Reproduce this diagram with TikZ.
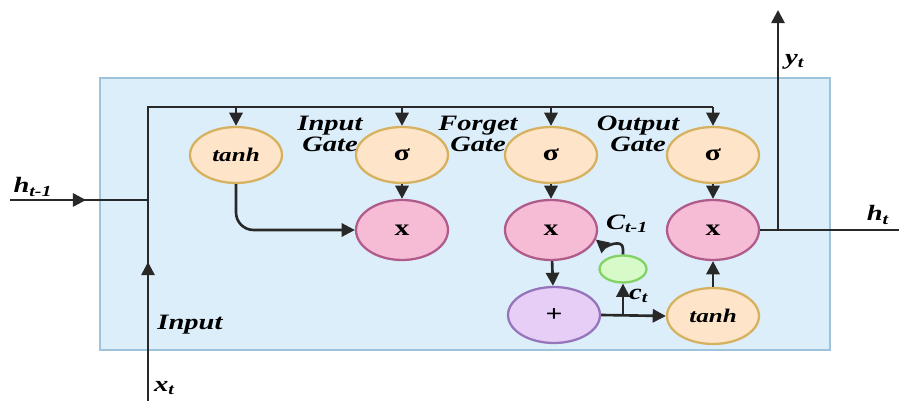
\documentclass[tikz,border=0pt]{standalone}
\usepackage{fontspec}
\setmainfont{Liberation Serif}
\newfontfamily\widefont[FakeStretch=1.3]{Liberation Serif}
\usetikzlibrary{shapes.geometric,arrows.meta}
\definecolor{boxfill}{RGB}{221,238,251}
\definecolor{boxline}{RGB}{160,195,220}
\definecolor{orfill}{RGB}{254,228,200}
\definecolor{orline}{RGB}{214,178,96}
\definecolor{pkfill}{RGB}{246,188,214}
\definecolor{pkline}{RGB}{176,92,138}
\definecolor{pufill}{RGB}{230,206,246}
\definecolor{puline}{RGB}{150,118,186}
\definecolor{grfill}{RGB}{214,250,200}
\definecolor{grline}{RGB}{130,210,100}
\definecolor{wire}{RGB}{40,40,40}
\tikzset{
  cell/.style={ellipse, line width=1.3pt, minimum width=1.84cm, minimum height=1.12cm,
    inner sep=0pt, font=\widefont\fontsize{13}{14}\selectfont\bfseries},
  act/.style={cell, draw=orline, fill=orfill},
  mult/.style={cell, draw=pkline, fill=pkfill, minimum height=1.2cm},
  addn/.style={cell, draw=puline, fill=pufill},
  actw/.style={act, font=\widefont\fontsize{11}{12}\selectfont\bfseries\itshape},
  conn/.style={draw=wire, line width=1.5pt, -{Triangle[length=7.5pt,width=7.5pt]}},
  wireln/.style={draw=wire, line width=1.5pt},
  lbl/.style={font=\widefont\fontsize{12.5}{12}\selectfont\bfseries\itshape, inner sep=1pt, align=center}
}
\begin{document}
\begin{tikzpicture}[x=0.02cm,y=-0.02cm]
\useasboundingbox (0,0) rectangle (899,401);
\fill[white] (0,0) rectangle (899,401);
% cell body
\draw[boxline, fill=boxfill, line width=1.2pt] (100,78) rectangle (830,350);

% activation and gate units
\node[actw] (th1) at (236,155) {tanh};
\node[act] (ig) at (402,155) {σ};
\node[act] (fg) at (551,155) {σ};
\node[act] (og) at (713,155) {σ};
\node[mult] (mi) at (402,230) {x};
\node[mult] (mf) at (551,230) {x};
\node[mult] (mo) at (713,230) {x};
\node[addn] (ad) at (554,315) {+};
\node[actw] (th2) at (713,316) {tanh};
\node[ellipse, draw=grline, fill=grfill, line width=1.3pt, minimum width=0.94cm,
      minimum height=0.54cm, inner sep=0pt] (gr) at (623,269) {};

% junctions
\coordinate (xin) at (148,401);
\coordinate (hin) at (10,200);
\coordinate (hj) at (148,200);
\coordinate (tl) at (148,107);
\coordinate (b1) at (236,107);
\coordinate (b2) at (402,107);
\coordinate (b3) at (551,107);
\coordinate (tr) at (713,107);
\coordinate (yj) at (778,230);
\coordinate (yout) at (778,10);
\coordinate (hout) at (899,230);
\coordinate (cj) at (623,316);

% shared input bus
\draw[wireln] (xin) -- (tl) -- (tr);
\draw[conn] (xin) -- (148,262);
\draw[wireln] (hin) -- (hj);
\draw[conn] (hin) -- (86,200);
\draw[conn] (b1) -- (th1);
\draw[conn] (b2) -- (ig);
\draw[conn] (b3) -- (fg);
\draw[conn] (tr) -- (og);

% gate paths
\draw[conn, rounded corners=10pt] (th1.south) |- (mi.west);
\draw[conn] (ig) -- (mi);
\draw[conn] (fg) -- (mf);
\draw[conn] (og) -- (mo);
\draw[conn] (mf) -- (ad);
\draw[conn] (ad.east) -- (th2.west);
\draw[conn] (cj) -- (gr.south);
\draw[conn] (gr.north) -- (623,249) to[out=90,in=-40] (mf.-12);
\draw[conn] (th2) -- (mo);

% outputs
\draw[wireln] (mo.east) -- (hout);
\draw[conn] (yj) -- (yout);

% labels
\node[lbl] at (330,134) {Input\\Gate};
\node[lbl] at (478,134) {Forget\\Gate};
\node[lbl] at (638,134) {Output\\Gate};
\node[lbl] at (190,325) {Input};
\node[lbl, anchor=west] at (152,388) {x\textsubscript{t}};
\node[lbl] at (33,187) {h\textsubscript{t-1}};
\node[lbl, anchor=west] at (783,62) {y\textsubscript{t}};
\node[lbl] at (878,215) {h\textsubscript{t}};
\node[lbl, anchor=west] at (604,224) {C\textsubscript{t-1}};
\node[lbl, anchor=west] at (627,296) {c\textsubscript{t}};
\end{tikzpicture}
\end{document}
